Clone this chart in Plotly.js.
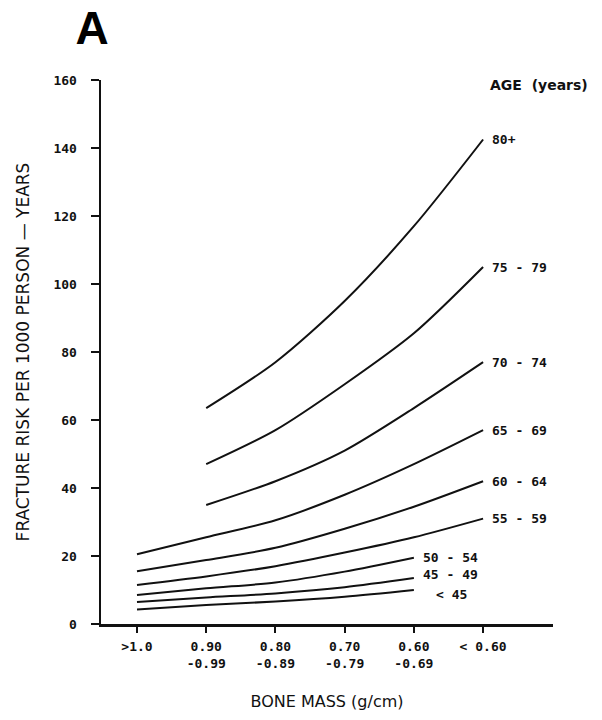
<!DOCTYPE html>
<html><head><meta charset="utf-8">
<script src="https://cdn.plot.ly/plotly-3.0.1.min.js"></script>
<style>html,body{margin:0;padding:0;background:#fff}#chart{width:602px;height:720px}</style>
</head><body><div id="chart"></div>
<script>
// Bone mass categories (g/cm)
const categories = [">1.0", "0.90<br>-0.99", "0.80<br>-0.89", "0.70<br>-0.79", "0.60<br>-0.69", "< 0.60"];
// Age groups (years)
const ageGroups = ["80+", "75 - 79", "70 - 74", "65 - 69", "60 - 64", "55 - 59", "50 - 54", "45 - 49", "< 45"];
// Fracture risk per 1000 person-years, by age group
const risk80plus = [null, 63.5, 77, 95, 117, 142.5];
const risk75to79 = [null, 47, 57, 70.5, 85.5, 105];
const risk70to74 = [null, 35, 42, 51, 63.5, 77];
const risk65to69 = [20.5, 25.5, 30.5, 38, 47, 57];
const risk60to64 = [15.5, 18.8, 22.4, 28, 34.5, 42];
const risk55to59 = [11.5, 14, 17, 21, 25.5, 31];
const risk50to54 = [8.5, 10.5, 12.2, 15.4, 19.5, null];
const risk45to49 = [6.5, 7.8, 9, 10.8, 13.5, null];
const riskUnder45 = [4.3, 5.6, 6.6, 8, 10, null];
const yTicks = [0, 20, 40, 60, 80, 100, 120, 140, 160];

const seriesList = [risk80plus, risk75to79, risk70to74, risk65to69, risk60to64, risk55to59, risk50to54, risk45to49, riskUnder45];

const traces = seriesList.map((vals, i) => ({
  type: 'scatter', mode: 'lines', name: ageGroups[i],
  x: categories, y: vals, connectgaps: false,
  line: {color: '#111', width: 2, shape: 'spline', smoothing: 0.8},
  hoverinfo: 'skip', showlegend: false
}));

const labelFont = {family: 'DejaVu Sans Mono', size: 13, color: '#111', weight: 'bold'};
const annotations = seriesList.map((vals, i) => {
  let k = vals.length - 1;
  while (vals[k] === null) k--;
  const g = ageGroups[i];
  return {
    x: categories[k], y: vals[k], xref: 'x', yref: 'y',
    text: g, showarrow: false, xanchor: 'left', yanchor: 'middle',
    xshift: g === '< 45' ? 20 : 7,
    yshift: g === '45 - 49' ? 4 : (g === '< 45' ? -4 : 0),
    font: labelFont
  };
});
annotations.push({
  x: 0.856, y: 0.99, xref: 'paper', yref: 'paper', xanchor: 'left', yanchor: 'middle',
  text: 'AGE  (years)', showarrow: false,
  font: {family: 'DejaVu Sans', size: 14, color: '#111', weight: 'bold'}
});

const layout = {
  width: 602, height: 720,
  margin: {l: 101, r: 49, t: 80, b: 96},
  paper_bgcolor: '#fff', plot_bgcolor: '#fff',
  title: {text: '<b>A</b>', x: 92/602, xref: 'container', xanchor: 'center',
          y: 1 - 28/720, yref: 'container', yanchor: 'middle',
          font: {family: 'Liberation Sans', size: 46, color: '#000'}},
  xaxis: {
    type: 'category', categoryorder: 'array', categoryarray: categories,
    range: [-0.52, 6.01], showgrid: false, zeroline: false,
    showline: true, linecolor: '#111', linewidth: 2.5,
    ticks: 'outside', ticklen: 6, tickwidth: 2, tickcolor: '#111',
    ticklabelstandoff: 3,
    tickfont: labelFont,
    title: {text: 'BONE MASS (g/cm)', standoff: 26,
            font: {family: 'DejaVu Sans', size: 16, color: '#111'}}
  },
  yaxis: {
    range: [0, 160], tickvals: yTicks, ticktext: yTicks.map(String),
    showgrid: false, zeroline: false,
    showline: true, linecolor: '#111', linewidth: 2.5,
    ticks: 'outside', ticklen: 8, tickwidth: 2, tickcolor: '#111',
    ticklabelstandoff: 11,
    tickfont: labelFont,
    title: {text: 'FRACTURE RISK PER 1000 PERSON — YEARS', standoff: 20,
            font: {family: 'DejaVu Sans', size: 17, color: '#111'}}
  },
  annotations: annotations
};

Plotly.newPlot('chart', traces, layout, {staticPlot: true, displayModeBar: false});
</script>
</body></html>
